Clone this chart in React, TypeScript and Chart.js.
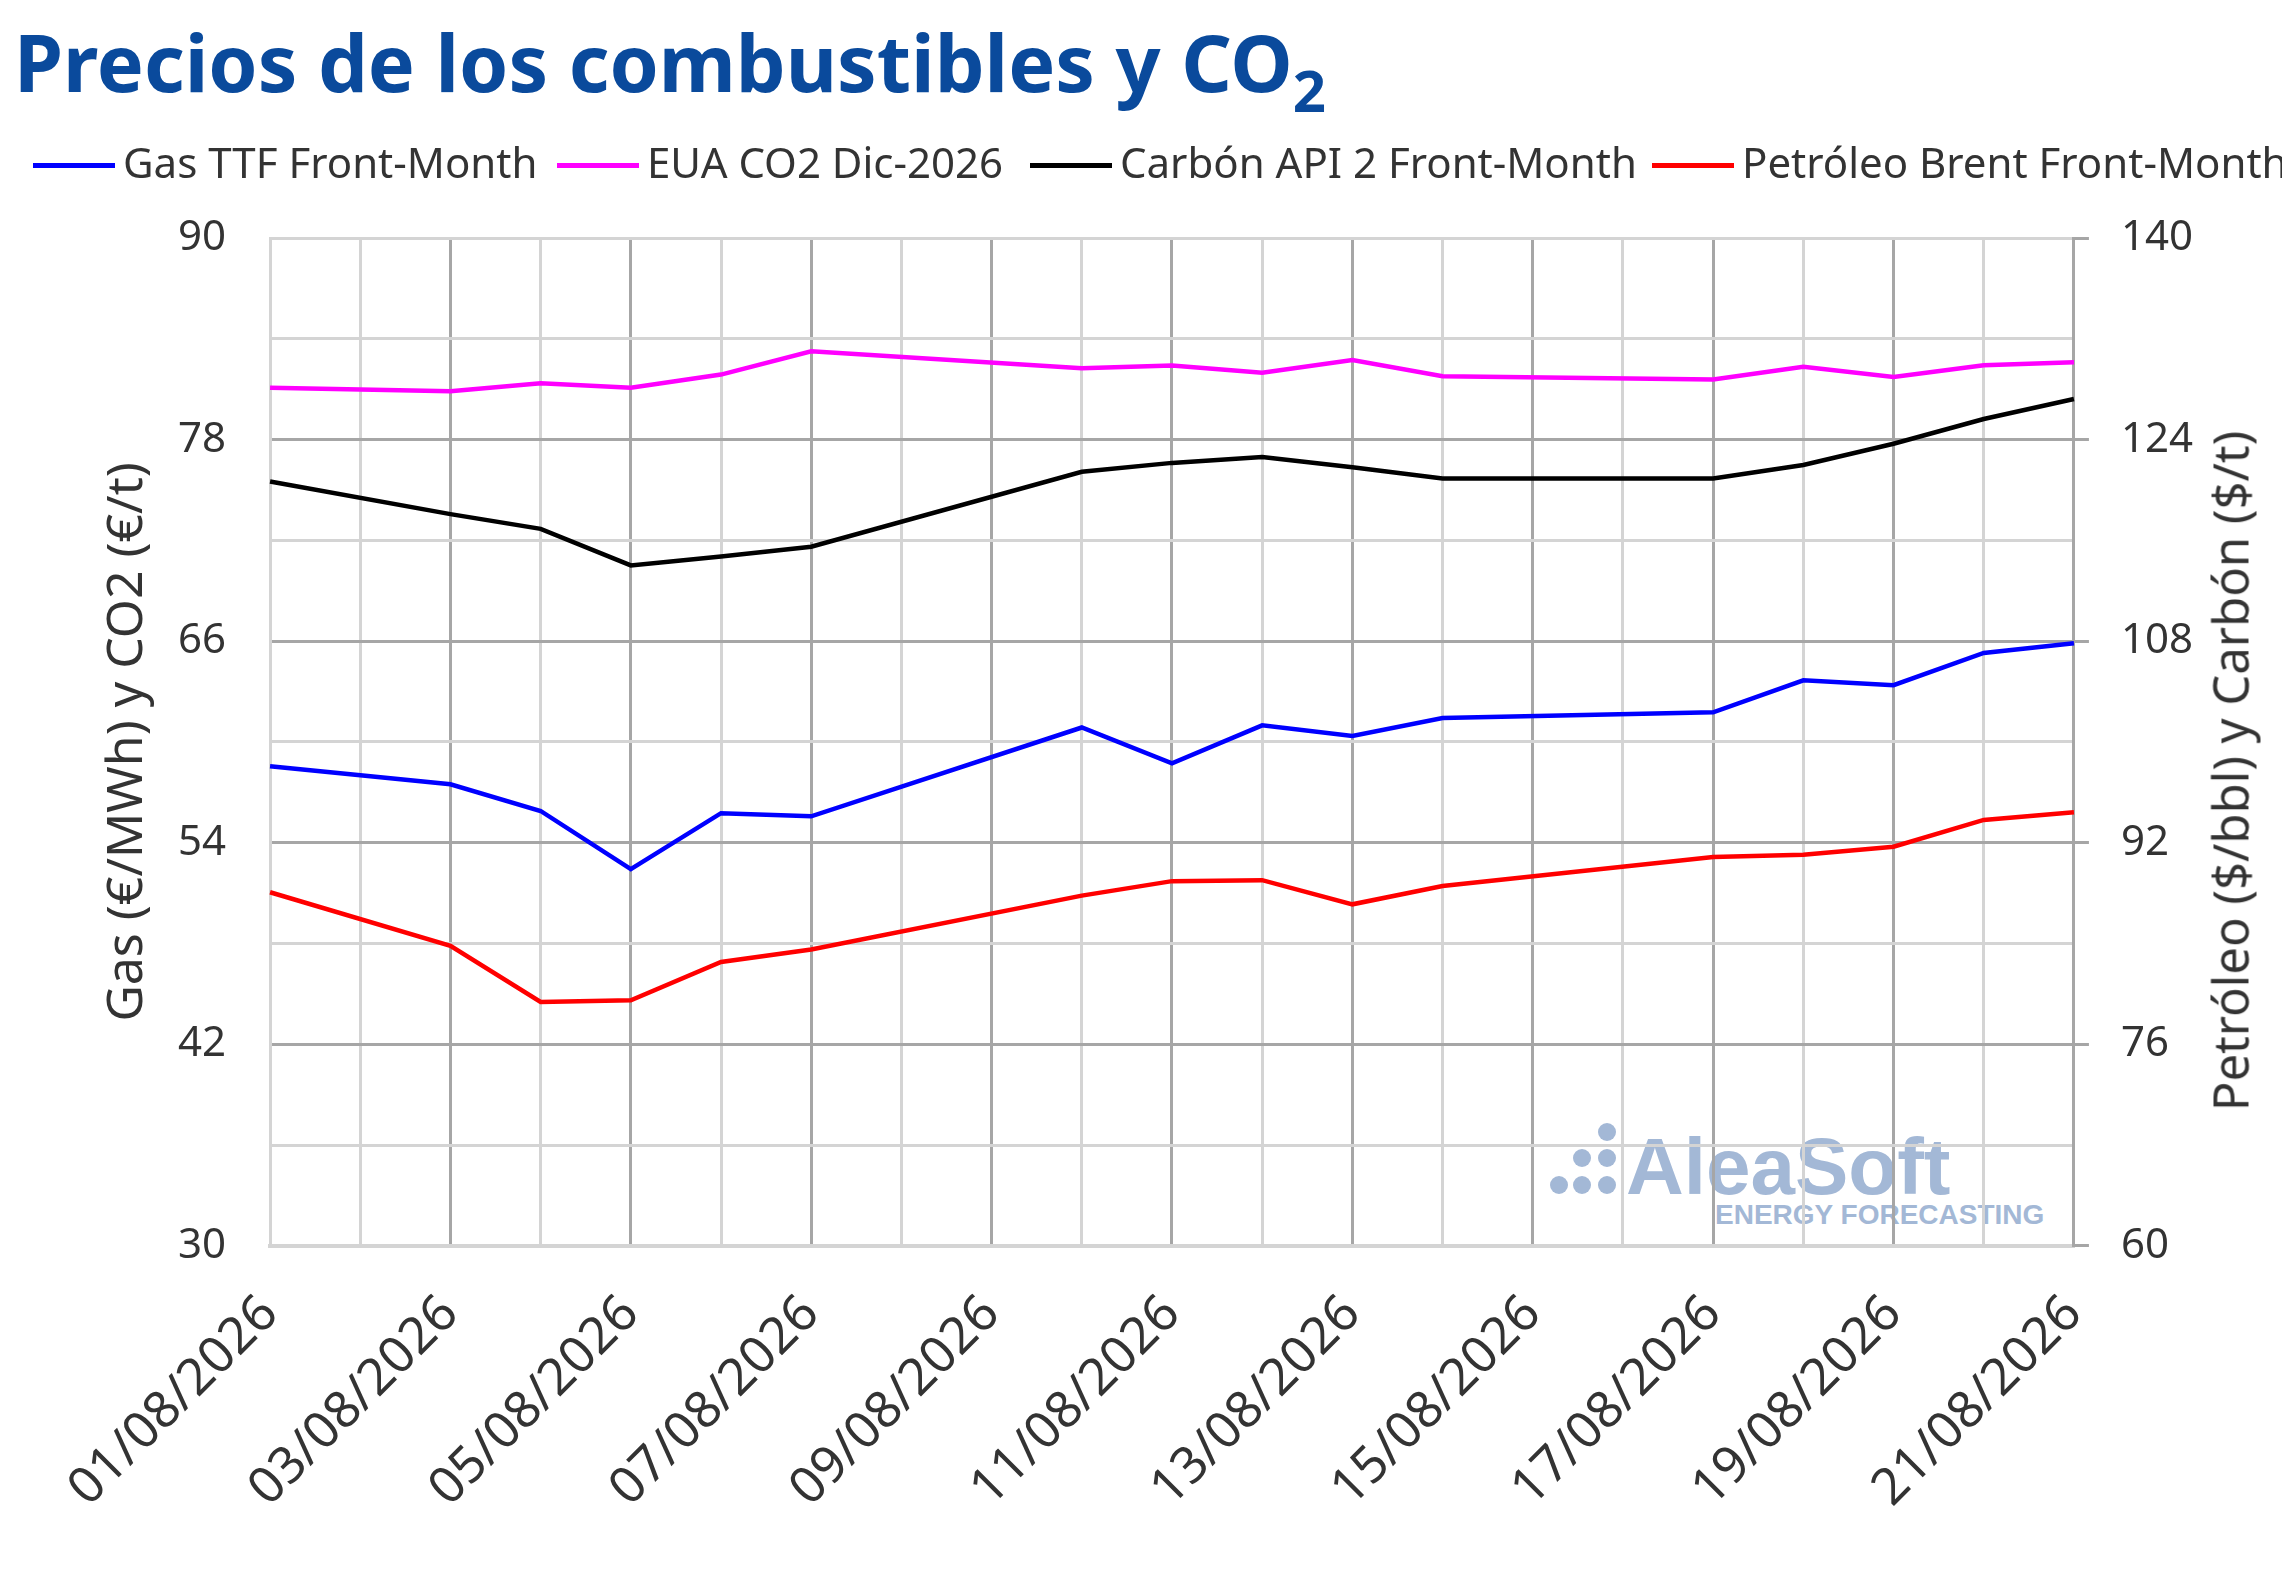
import React, { useEffect, useRef } from 'react';
import Chart from 'chart.js/auto';

// Fechas (eje X) y series; null = sin cotización (fin de semana)
const dates = [
  '01/08/2026', '02/08/2026', '03/08/2026', '04/08/2026', '05/08/2026', '06/08/2026', '07/08/2026',
  '08/08/2026', '09/08/2026', '10/08/2026', '11/08/2026', '12/08/2026', '13/08/2026', '14/08/2026',
  '15/08/2026', '16/08/2026', '17/08/2026', '18/08/2026', '19/08/2026', '20/08/2026', '21/08/2026',
];

const gasTTF = [58.55, null, 57.48, 55.89, 52.43, 55.76, 55.57, null, null, 60.86, 58.73, 60.99, 60.35, 61.42, null, null, 61.76, 63.67, 63.38, 65.3, 65.88];
const euaCO2 = [81.08, null, 80.87, 81.35, 81.08, 81.87, 83.26, null, null, 82.25, 82.41, 81.98, 82.73, 81.77, null, null, 81.58, 82.33, 81.72, 82.43, 82.6];
const carbonAPI2 = [120.67, null, 118.08, 116.91, 114.01, 114.71, 115.49, null, null, 121.44, 122.15, 122.61, 121.8, 120.91, null, null, 120.91, 121.98, 123.67, 125.63, 127.22];
const brent = [88.07, null, 83.82, 79.36, 79.49, 82.54, 83.53, null, null, 87.8, 88.95, 89.03, 87.11, 88.56, null, null, 90.87, 91.05, 91.68, 93.81, 94.41];

const seriesNames = ['Gas TTF Front-Month', 'EUA CO2 Dic-2026', 'Carbón API 2 Front-Month', 'Petróleo Brent Front-Month'];
const seriesColors = ['#0000ff', '#ff00ff', '#000000', '#ff0000'];
const legendLeft = [33, 557, 1030, 1652];

const FONT = '"Noto Sans", sans-serif';
const TEXT = '#333333';
const GRID_MAJOR = '#a6a6a6';
const GRID_MINOR = '#d4d4d4';
const CLEAR = 'rgba(0,0,0,0)';

const ChartCanvas: React.FC = () => {
  const canvasRef = useRef<HTMLCanvasElement>(null);

  useEffect(() => {
    if (!canvasRef.current) return;
    const datasets = [gasTTF, euaCO2, carbonAPI2, brent].map((data, i) => ({
      label: seriesNames[i],
      data,
      borderColor: seriesColors[i],
      backgroundColor: seriesColors[i],
      borderWidth: 4.5,
      pointRadius: 0,
      tension: 0,
      spanGaps: true,
      yAxisID: i < 2 ? 'y' : 'y1',
    }));

    const chart = new Chart(canvasRef.current, {
      type: 'line',
      data: { labels: dates, datasets },
      options: {
        animation: false,
        responsive: true,
        maintainAspectRatio: false,
        layout: { padding: { left: 95, right: 57, top: 238, bottom: 32 } },
        plugins: { legend: { display: false }, tooltip: { enabled: false } },
        scales: {
          x: {
            offset: false,
            border: { color: GRID_MINOR, width: 4 },
            grid: {
              drawTicks: false,
              lineWidth: 3,
              color: (ctx: any) => (ctx.index > 0 && ctx.index % 2 === 0 ? GRID_MAJOR : GRID_MINOR),
            },
            ticks: {
              autoSkip: false,
              maxRotation: 45,
              minRotation: 45,
              padding: 38,
              color: TEXT,
              font: { family: FONT, size: 51 },
              callback: (_v: any, i: number) => (i % 2 === 0 ? dates[i] : ''),
            },
          },
          y: {
            position: 'left',
            min: 30,
            max: 90,
            border: { color: GRID_MINOR, width: 3 },
            grid: {
              drawTicks: true,
              tickLength: 44,
              tickColor: CLEAR,
              lineWidth: 3,
              color: (ctx: any) => {
                const v = ctx.tick.value;
                return v > 30 && v < 90 && (v - 30) % 12 === 0 ? GRID_MAJOR : GRID_MINOR;
              },
            },
            ticks: {
              stepSize: 6,
              padding: 0,
              color: TEXT,
              font: { family: FONT, size: 42 },
              callback: (v: any) => ((v - 30) % 12 === 0 ? String(v) : ''),
            },
            title: {
              display: true,
              text: 'Gas (€/MWh) y CO2 (€/t)',
              color: TEXT,
              font: { family: FONT, size: 50, weight: 'normal' },
              padding: { top: 3, bottom: 20 },
            },
          },
          y1: {
            position: 'right',
            min: 60,
            max: 140,
            border: { color: GRID_MAJOR, width: 3 },
            grid: {
              drawOnChartArea: false,
              drawTicks: true,
              tickLength: 15,
              lineWidth: 3,
              tickColor: (ctx: any) => ((ctx.tick.value - 60) % 16 === 0 ? GRID_MAJOR : CLEAR),
            },
            ticks: {
              stepSize: 8,
              padding: 32,
              color: TEXT,
              font: { family: FONT, size: 42 },
              callback: (v: any) => ((v - 60) % 16 === 0 ? String(v) : ''),
            },
          },
        },
      } as any,
    });

    return () => chart.destroy();
  }, []);

  return <canvas ref={canvasRef} />;
};

const Watermark: React.FC = () => {
  const color = '#a3b8d6';
  const dots = [
    [1607, 1132], [1582, 1158], [1607, 1158], [1559, 1185], [1582, 1185], [1607, 1185],
  ];
  return (
    <div style={{ position: 'absolute', left: 0, top: 0 }}>
      {dots.map(([cx, cy], i) => (
        <div key={i} style={{ position: 'absolute', left: cx - 9, top: cy - 9, width: 18, height: 18, borderRadius: '50%', background: color }} />
      ))}
      <div style={{ position: 'absolute', left: 1626, top: 1127, font: 'bold 80px "Liberation Sans", Arial, sans-serif', lineHeight: 1, color, whiteSpace: 'nowrap' }}>
        AleaSoft
      </div>
      <div style={{ position: 'absolute', left: 1715, top: 1201, font: 'bold 28px "Liberation Sans", Arial, sans-serif', lineHeight: 1, color, whiteSpace: 'nowrap' }}>
        ENERGY FORECASTING
      </div>
    </div>
  );
};

export default function App() {
  return (
    <div style={{ position: 'absolute', left: 0, top: 0, width: 2282, height: 1589, overflow: 'hidden', background: '#ffffff', fontFamily: FONT }}>
      <Watermark />
      <div style={{ position: 'absolute', left: 0, top: 0, width: 2282, height: 1589 }}>
        <ChartCanvas />
      </div>
      <div style={{ position: 'absolute', left: 14, top: 22, fontSize: 79, fontWeight: 700, lineHeight: 1, color: '#0a4a9c', whiteSpace: 'nowrap' }}>
        Precios de los combustibles y CO<span style={{ fontSize: 58, position: 'relative', top: 20 }}>2</span>
      </div>
      {seriesNames.map((name, i) => (
        <div key={name} style={{ position: 'absolute', left: legendLeft[i], top: 132, height: 60, display: 'flex', alignItems: 'center', whiteSpace: 'nowrap', fontSize: 42, lineHeight: '60px', color: TEXT }}>
          <div style={{ width: 82, height: 5, background: seriesColors[i], marginRight: 8, marginTop: 6 }} />
          <span>{name}</span>
        </div>
      ))}
      <div style={{ position: 'absolute', left: 2230, top: 771, transform: 'translate(-50%, -50%) rotate(-90deg)', fontSize: 49, lineHeight: 1, color: TEXT, whiteSpace: 'nowrap' }}>
        Petróleo ($/bbl) y Carbón ($/t)
      </div>
    </div>
  );
}
